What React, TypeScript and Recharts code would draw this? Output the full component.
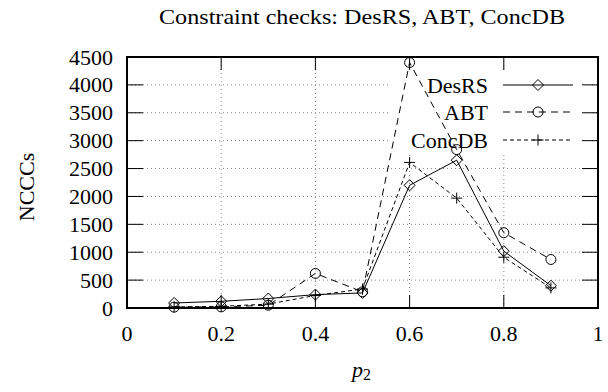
import React from 'react';
import { LineChart, Line, XAxis, YAxis, CartesianGrid } from 'recharts';

const pValues = [0.1, 0.2, 0.3, 0.4, 0.5, 0.6, 0.7, 0.8, 0.9];
const desRS = [90, 120, 170, 240, 270, 2200, 2650, 1020, 400];
const abt = [15, 20, 50, 620, 290, 4400, 2840, 1350, 870];
const concDB = [20, 30, 70, 225, 340, 2610, 1970, 910, 360];

const xTicks = [0, 0.2, 0.4, 0.6, 0.8, 1];
const yTicks = [0, 500, 1000, 1500, 2000, 2500, 3000, 3500, 4000, 4500];
const seriesNames = ['DesRS', 'ABT', 'ConcDB'];

const data = pValues.map((p, i) => ({
  p,
  DesRS: desRS[i],
  ABT: abt[i],
  ConcDB: concDB[i],
}));

const FONT = '"Liberation Serif", "Times New Roman", serif';
const W = 608;
const H = 392;
const TOP = 57;
const RIGHT = 10;
const LEFT_W = 127;
const BOTTOM_H = 84;
const XTICK = 13;
const YTICK = 16;
const PLOT_R = W - RIGHT;
const PLOT_B = H - BOTTOM_H;

const KEY = { x1: 388, x2: 592, y1: 70, y2: 155 };

const Diamond = (props: any) => {
  const { cx, cy } = props;
  if (cx == null || cy == null) return null;
  const r = 5.5;
  return (
    <path
      d={`M${cx},${cy - r}L${cx + r},${cy}L${cx},${cy + r}L${cx - r},${cy}Z`}
      fill="none"
      stroke="#000"
      strokeWidth={1}
    />
  );
};

const Circle = (props: any) => {
  const { cx, cy } = props;
  if (cx == null || cy == null) return null;
  return <circle cx={cx} cy={cy} r={5} fill="none" stroke="#000" strokeWidth={1} />;
};

const Plus = (props: any) => {
  const { cx, cy } = props;
  if (cx == null || cy == null) return null;
  const r = 5.5;
  return (
    <path
      d={`M${cx - r},${cy}L${cx + r},${cy}M${cx},${cy - r}L${cx},${cy + r}`}
      fill="none"
      stroke="#000"
      strokeWidth={1}
    />
  );
};

const markers = [Diamond, Circle, Plus];
const dashes = ['', '7 5', '4 3'];

const fmtX = (v: number) => (v === 0 || v === 1 ? String(v) : v.toFixed(1));

const X_MARGIN = 25;
const Y_MARGIN = 14;

const gridStyle = { stroke: '#888', strokeWidth: 1, strokeDasharray: '1 3', fill: 'none' };

const HGrid = (props: any) => {
  const { x1, x2, y1, index } = props;
  const k = `h-${index}-${y1}`;
  if (y1 >= KEY.y1 && y1 <= KEY.y2) {
    return (
      <g key={k}>
        <line x1={x1} x2={KEY.x1} y1={y1} y2={y1} {...gridStyle} />
        <line x1={KEY.x2} x2={x2} y1={y1} y2={y1} {...gridStyle} />
      </g>
    );
  }
  return <line key={k} x1={x1} x2={x2} y1={y1} y2={y1} {...gridStyle} />;
};

const VGrid = (props: any) => {
  const { x1, y1, y2, index } = props;
  const k = `v-${index}-${x1}`;
  const top = Math.min(y1, y2);
  const bot = Math.max(y1, y2);
  if (x1 >= KEY.x1 && x1 <= KEY.x2) {
    return (
      <g key={k}>
        <line x1={x1} x2={x1} y1={top} y2={KEY.y1} {...gridStyle} />
        <line x1={x1} x2={x1} y1={KEY.y2} y2={bot} {...gridStyle} />
      </g>
    );
  }
  return <line key={k} x1={x1} x2={x1} y1={top} y2={bot} {...gridStyle} />;
};

const BottomTick = (props: any) => {
  const { x, y, payload } = props;
  const ay = y - X_MARGIN;
  const v = payload.value;
  const edge = v === 0 || v === 1;
  return (
    <g>
      {!edge && (
        <>
          <line x1={x} x2={x} y1={ay} y2={ay - XTICK} stroke="#000" strokeWidth={1} />
          <line x1={x} x2={x} y1={TOP} y2={TOP + XTICK} stroke="#000" strokeWidth={1} />
        </>
      )}
      <text x={x} y={ay + 33} textAnchor="middle" fontSize={22} fontFamily={FONT} fill="#000">
        {fmtX(v)}
      </text>
    </g>
  );
};

const LeftTick = (props: any) => {
  const { x, y, payload } = props;
  const ax = x + Y_MARGIN;
  const v = payload.value;
  const edge = v === 0 || v === 4500;
  return (
    <g>
      {!edge && (
        <>
          <line x1={ax} x2={ax + YTICK} y1={y} y2={y} stroke="#000" strokeWidth={1} />
          <line x1={PLOT_R} x2={PLOT_R - YTICK} y1={y} y2={y} stroke="#000" strokeWidth={1} />
        </>
      )}
      <text x={ax - Y_MARGIN} y={y + 7.5} textAnchor="end" fontSize={22} fontFamily={FONT} fill="#000">
        {v}
      </text>
    </g>
  );
};

export default function App() {
  return (
    <div style={{ position: 'absolute', left: 0, top: 0, width: W, height: H, background: '#fff' }}>
      <LineChart
        width={W}
        height={H}
        data={data}
        margin={{ top: TOP, right: RIGHT, left: 0, bottom: 0 }}
        style={{ fontFamily: FONT }}
      >
        <CartesianGrid
          xAxisId="b"
          yAxisId="l"
          horizontalValues={[500, 1000, 1500, 2000, 2500, 3000, 3500, 4000]}
          verticalValues={[0.2, 0.4, 0.6, 0.8]}
          horizontal={HGrid}
          vertical={VGrid}
        />
        <XAxis
          xAxisId="b"
          dataKey="p"
          type="number"
          domain={[0, 1]}
          ticks={xTicks}
          interval={0}
          height={BOTTOM_H}
          tickSize={0}
          tickMargin={X_MARGIN}
          tickLine={false}
          tick={BottomTick}
          axisLine={false}
        />
        <YAxis
          yAxisId="l"
          type="number"
          domain={[0, 4500]}
          ticks={yTicks}
          width={LEFT_W}
          tickSize={0}
          tickMargin={Y_MARGIN}
          interval={0}
          tickLine={false}
          tick={LeftTick}
          axisLine={false}
        />
        {seriesNames.map((name, i) => {
          const M = markers[i];
          return (
            <Line
              key={name}
              xAxisId="b"
              yAxisId="l"
              dataKey={name}
              type="linear"
              stroke="#000"
              strokeWidth={1}
              strokeDasharray={dashes[i] || undefined}
              dot={(p: any) => <M key={`${name}-${p.index}`} {...p} />}
              activeDot={false}
              isAnimationActive={false}
            />
          );
        })}
      </LineChart>
      <svg
        width={W}
        height={H}
        style={{ position: 'absolute', left: 0, top: 0, pointerEvents: 'none', fontFamily: FONT }}
      >
        <path
          d={`M${LEFT_W},${TOP}H${PLOT_R}V${PLOT_B}H${LEFT_W}Z`}
          fill="none"
          stroke="#000"
          strokeWidth={2}
        />
        <text
          x={362}
          y={24}
          textAnchor="middle"
          fontSize={22}
          fill="#000"
          textLength={406}
          lengthAdjust="spacingAndGlyphs"
        >
          Constraint checks: DesRS, ABT, ConcDB
        </text>
        <text
          x={0}
          y={0}
          transform="translate(34,187) rotate(-90)"
          textAnchor="middle"
          fontSize={22}
          fill="#000"
        >
          NCCCs
        </text>
        <text x={352} y={377} fontSize={22} fill="#000" fontStyle="italic">
          p
          <tspan fontSize={16} fontStyle="normal" dy={3}>
            2
          </tspan>
        </text>
        {seriesNames.map((name, i) => {
          const M = markers[i];
          const y = [85, 112, 140][i];
          return (
            <g key={name}>
              <text x={488} y={y + 7.5} textAnchor="end" fontSize={22} fill="#000">
                {name}
              </text>
              <line
                x1={503}
                x2={573}
                y1={y}
                y2={y}
                stroke="#000"
                strokeWidth={1}
                strokeDasharray={dashes[i] || undefined}
              />
              <M cx={538} cy={y} />
            </g>
          );
        })}
      </svg>
    </div>
  );
}
